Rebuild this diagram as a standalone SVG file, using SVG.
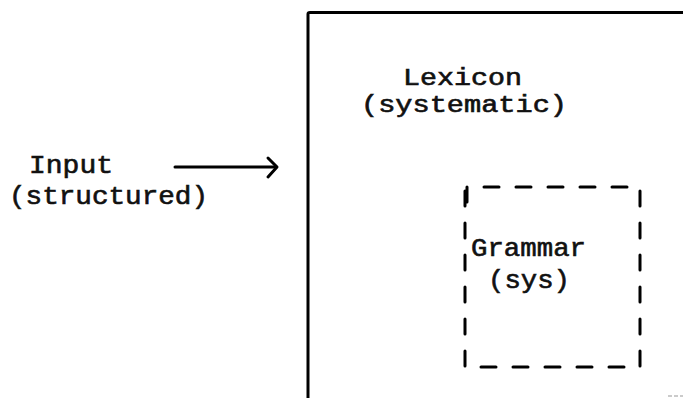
<svg xmlns="http://www.w3.org/2000/svg" width="683" height="398" viewBox="0 0 683 398">
<style>
.t{font-family:"Liberation Mono","Courier New",monospace;font-size:25px;fill:#111;stroke:#111;stroke-width:0.6px}
.s{font-size:23px}
.ln{fill:none;stroke:#000;stroke-linecap:round;stroke-linejoin:round}
</style>
<rect width="683" height="398" fill="#fff"/>
<g id="input">
<text class="t" x="29" y="173" textLength="84" lengthAdjust="spacingAndGlyphs">Input</text>
<text class="t" x="9" y="204" textLength="199" lengthAdjust="spacingAndGlyphs">(structured)</text>
</g>
<g id="lexicon">
<path class="ln" d="M308,398 L308,14 Q308,12.5 310,12.5 L683,12.5" stroke-width="3"/>
<text class="t s" x="403" y="85" textLength="119" lengthAdjust="spacingAndGlyphs">Lexicon</text>
<text class="t s" x="361" y="112" textLength="206" lengthAdjust="spacingAndGlyphs">(systematic)</text>
</g>
<g id="grammar">
<path class="ln" d="M467,202 L467,187 L640,187 L640,367 L465,367 L465,187" stroke-width="3" stroke-dasharray="15 17"/>
<text class="t" x="471" y="256" textLength="115" lengthAdjust="spacingAndGlyphs">Grammar</text>
<text class="t" x="488" y="288" textLength="82" lengthAdjust="spacingAndGlyphs">(sys)</text>
</g>
<g id="connectors">
<line class="ln" x1="175" y1="167" x2="276" y2="167" stroke-width="3"/>
<polyline class="ln" points="268,158 277,167 268,177" stroke-width="3"/>
</g>
<line x1="668" y1="396" x2="683" y2="396" stroke="#bbb" stroke-width="1.5" stroke-dasharray="4 2"/>
</svg>
